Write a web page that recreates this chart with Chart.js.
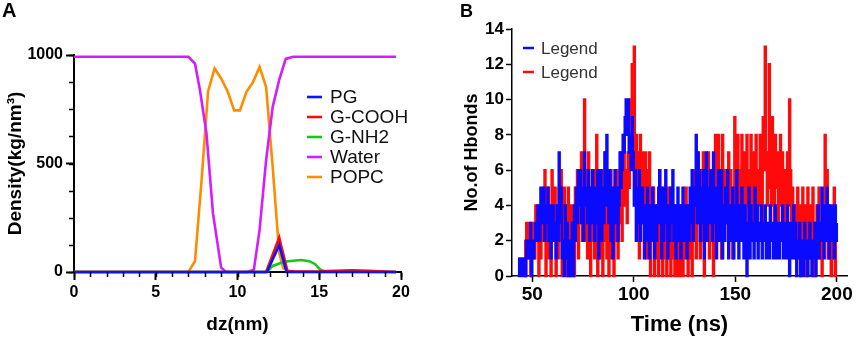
<!DOCTYPE html>
<html>
<head>
<meta charset="utf-8">
<script src="https://cdn.jsdelivr.net/npm/chart.js@4.4.0/dist/chart.umd.min.js"></script>
<style>
  html, body { margin: 0; padding: 0; background: #fff; }
  #wrap { position: relative; width: 858px; height: 340px; overflow: hidden; }
  .panel { position: absolute; top: 0; height: 340px; }
  #panelA { left: 0; width: 430px; }
  #panelB { left: 430px; width: 428px; }
</style>
</head>
<body>
<div id="wrap">
  <div class="panel" id="panelA"><canvas id="chartA"></canvas></div>
  <div class="panel" id="panelB"><canvas id="chartB"></canvas></div>
</div>
<script>
// --- Panel A: density profiles along dz (nm) ---
const pgX    = [0, 11.8, 12.55, 13.0, 19.7];
const pgY    = [0, 0, 124, 0, 0];
const coohX  = [0, 11.75, 12.55, 13.05, 13.5, 15, 16, 17, 18, 19, 19.7];
const coohY  = [0, 0, 158, 5, 2, 3, 6, 8, 5, 2, 0];
const nh2X   = [0, 11.8, 12.15, 12.6, 13.0, 13.4, 13.9, 14.4, 14.75, 15.05, 15.3, 16, 19.7];
const nh2Y   = [0, 0, 28, 40, 48, 52, 55, 50, 36, 12, 3, 2, 0];
const waterX = [0, 7.0, 7.4, 7.7, 8.1, 8.5, 9.0, 9.3, 10.6, 11.0, 11.35, 11.75, 12.15, 12.55, 12.95, 13.4, 19.7];
const waterY = [992, 992, 960, 840, 640, 270, 20, 0, 0, 10, 194, 515, 760, 885, 982, 992, 992];
const popcX  = [0, 7.0, 7.4, 7.8, 8.2, 8.6, 9.0, 9.4, 9.8, 10.15, 10.55, 10.95, 11.35, 11.75, 12.15, 12.55, 12.8, 13.2, 19.7];
const popcY  = [0, 0, 50, 420, 832, 938, 892, 832, 745, 745, 830, 875, 945, 852, 485, 87, 18, 0, 0];

// --- Panel B: number of H-bonds over time (sampled every 0.5 ns) ---
const hbStep = 0.5;
const blueStart = 43;
const blueHbonds = [
  1,0,1,1,0,1,0,0,2,1,  2,1,3,0,2,1,2,3,2,4,  3,2,5,3,4,5,2,4,3,5,  2,4,1,3,4,2,3,1,4,2,
  7,3,5,1,2,0,4,1,3,0,  2,0,1,3,0,4,2,5,3,6,  4,6,3,5,2,7,4,5,3,6,  2,5,3,6,4,2,5,3,6,1,
  4,6,2,5,3,7,4,8,5,3,  6,2,5,1,4,6,3,5,2,4,  7,5,6,8,7,9,10,8,10,7, 8,6,9,7,4,6,2,5,3,6,
  2,4,5,3,1,4,2,5,3,1,  4,2,5,3,1,4,2,3,5,6,  3,1,5,2,4,6,3,1,4,2,  5,3,6,2,4,1,3,5,2,4,
  1,3,5,2,4,3,1,4,2,5,  3,6,2,5,4,8,3,7,6,2,  5,3,6,1,4,7,2,5,3,6,  4,2,7,3,5,1,4,6,2,3,
  6,1,4,2,5,3,6,1,4,2,  3,5,1,4,2,6,3,1,4,2,  5,3,1,4,2,0,3,5,1,4,  2,3,1,5,2,4,1,3,2,4,
  1,3,2,4,1,3,2,1,4,2,  3,1,2,4,1,3,2,1,3,2,  4,1,2,3,1,4,2,0,3,1,  2,4,1,3,0,2,1,3,0,2,
  1,0,3,2,1,0,2,3,1,0,  2,1,3,0,2,4,1,3,2,5,  3,1,4,2,5,3,1,4,2,4,  3,1,4,2,3
];
const redStart = 46;
const redHbonds = [
  2,0,3,1,2,3,0,2,1,3,  1,4,2,3,0,4,1,3,2,5,  6,0,3,5,1,4,0,6,2,3,  5,0,4,1,5,2,6,0,3,5,
  1,4,0,5,2,0,4,1,3,0,  5,2,6,1,4,3,7,2,5,10, 2,6,1,7,3,0,5,2,6,1,  4,8,0,5,3,1,6,0,4,2,
  7,1,5,0,3,6,1,4,0,5,  2,6,1,5,3,7,2,5,8,4,  6,3,7,5,10,8,12,7,13,6, 8,2,7,1,8,3,7,5,2,7,
  1,6,3,7,0,4,2,5,0,3,  1,4,0,6,2,5,0,3,1,4,  0,2,5,1,0,3,1,4,0,2,  0,3,1,0,4,2,0,3,1,5,
  2,0,4,1,3,0,5,2,6,1,  7,3,5,1,6,2,7,0,4,6,  2,7,1,5,3,6,0,4,8,2,  5,8,3,6,1,8,4,2,6,5,
  3,7,2,6,4,1,5,9,3,6,  8,2,6,4,8,3,7,5,2,8,  4,6,3,8,5,2,7,4,8,3,  6,4,8,5,3,9,6,13,7,4,
  5,12,7,4,9,6,3,8,5,7, 3,6,8,4,7,2,6,5,3,7,  4,10,6,3,5,2,4,1,3,5, 2,4,0,3,5,1,4,2,0,5,
  3,1,4,2,5,0,3,1,4,2,  5,1,3,0,4,2,8,3,6,1,  4,2,0,3,1,5,0,2
];

const FONT = '"Liberation Sans", Arial, Helvetica, sans-serif';
Chart.defaults.color = '#000';
Chart.defaults.font.family = FONT;

function pairs(xs, ys) {
  return xs.map((x, i) => ({x: x, y: ys[i]}));
}
function timeSeries(start, step, values) {
  return values.map((v, i) => ({x: start + i * step, y: v}));
}

// legend drawn inside the plot area + panel letter
function insideLegend(o) {
  return {
    id: 'insideLegend',
    afterDraw(chart) {
      const ctx = chart.ctx;
      ctx.save();
      ctx.font = o.font;
      ctx.textBaseline = 'middle';
      chart.data.datasets.forEach((ds, i) => {
        const y = o.y + i * o.rowHeight;
        ctx.strokeStyle = ds.borderColor;
        ctx.lineWidth = o.lineWidth;
        ctx.beginPath();
        ctx.moveTo(o.x, y);
        ctx.lineTo(o.x + o.lineLength, y);
        ctx.stroke();
        ctx.fillStyle = o.color;
        ctx.fillText(ds.label, o.x + o.lineLength + o.gap, y + 1);
      });
      ctx.font = o.letterFont;
      ctx.fillStyle = '#000';
      ctx.textBaseline = 'alphabetic';
      ctx.fillText(o.letter, o.letterX, o.letterY);
      ctx.restore();
    }
  };
}

// small unlabeled ticks between the major ones
function minorTicks(o) {
  return {
    id: 'minorTicks',
    afterDraw(chart) {
      const {ctx, chartArea, scales} = chart;
      ctx.save();
      ctx.strokeStyle = '#000';
      ctx.lineWidth = o.tickWidth;
      ctx.beginPath();
      for (let v = scales.x.min; v <= scales.x.max + 1e-9; v += o.xStep) {
        const px = Math.round(scales.x.getPixelForValue(v)) + 0.5;
        ctx.moveTo(px, chartArea.bottom);
        ctx.lineTo(px, chartArea.bottom + o.tickLen);
      }
      for (let v = scales.y.min; v <= scales.y.max + 1e-9; v += o.yStep) {
        const py = Math.round(scales.y.getPixelForValue(v)) + 0.5;
        ctx.moveTo(chartArea.left, py);
        ctx.lineTo(chartArea.left - o.tickLen, py);
      }
      ctx.stroke();
      ctx.restore();
    }
  };
}

function axis(opts) {
  return {
    type: 'linear',
    min: opts.min,
    max: opts.max,
    ticks: {stepSize: opts.step, includeBounds: false, padding: opts.pad,
            font: {size: opts.tickSize, weight: 'bold'}, color: '#000', maxRotation: 0,
            callback: v => String(v)},
    grid: {display: true, drawOnChartArea: false, drawTicks: true,
           tickLength: opts.tickLength, tickWidth: opts.lineWidth, tickColor: '#000'},
    border: {display: true, color: '#000', width: opts.lineWidth},
    title: {display: true, text: opts.title, color: '#000',
            font: {size: opts.titleSize, weight: 'bold'}, padding: {top: 0, bottom: 0}},
    afterFit: opts.fit
  };
}

new Chart(document.getElementById('chartA'), {
  type: 'line',
  data: {
    datasets: [
      {label: 'PG', data: pairs(pgX, pgY), borderColor: '#0a14ff'},
      {label: 'G-COOH', data: pairs(coohX, coohY), borderColor: '#ff0a0a'},
      {label: 'G-NH2', data: pairs(nh2X, nh2Y), borderColor: '#14c814'},
      {label: 'Water', data: pairs(waterX, waterY), borderColor: '#d21eff'},
      {label: 'POPC', data: pairs(popcX, popcY), borderColor: '#ff8c00'}
    ]
  },
  options: {
    animation: false,
    responsive: true,
    maintainAspectRatio: false,
    layout: {padding: {left: 4, top: 55, right: 29, bottom: 4}},
    elements: {point: {radius: 0}, line: {tension: 0, borderWidth: 2.6}},
    datasets: {line: {clip: false}},
    scales: {
      x: axis({min: 0, max: 20, step: 5, pad: 3, tickSize: 16, tickLength: 8, lineWidth: 2,
               title: 'dz(nm)', titleSize: 19, fit: s => { s.height = 64; }}),
      y: axis({min: 0, max: 1000, step: 500, pad: 3, tickSize: 16, tickLength: 8, lineWidth: 2,
               title: 'Density(kg/nm³)', titleSize: 19, fit: s => { s.width = 70; }})
    },
    plugins: {legend: {display: false}, tooltip: {enabled: false}}
  },
  plugins: [
    minorTicks({xStep: 1, yStep: 125, tickLen: 5, tickWidth: 1.5}),
    insideLegend({x: 307, y: 97, rowHeight: 20, lineLength: 15, gap: 8, lineWidth: 2.6,
                  font: '19px ' + FONT, color: '#111',
                  letter: 'A', letterFont: 'bold 20px ' + FONT, letterX: 2, letterY: 17})
  ]
});

new Chart(document.getElementById('chartB'), {
  type: 'line',
  data: {
    datasets: [
      {label: 'Legend', data: timeSeries(blueStart, hbStep, blueHbonds), borderColor: '#0a0aff', stepped: true},
      {label: 'Legend', data: timeSeries(redStart, hbStep, redHbonds), borderColor: '#ff0a0a', stepped: true}
    ]
  },
  options: {
    animation: false,
    responsive: true,
    maintainAspectRatio: false,
    layout: {padding: {left: 31, top: 29, right: 11, bottom: 2}},
    elements: {point: {radius: 0}, line: {tension: 0, borderWidth: 2.4}},
    datasets: {line: {clip: false}},
    scales: {
      x: axis({min: 40, max: 205, step: 50, pad: 1, tickSize: 19, tickLength: 6, lineWidth: 1.5,
               title: 'Time (ns)', titleSize: 22, fit: s => { s.height = 62; }}),
      y: axis({min: 0, max: 14, step: 2, pad: 2, tickSize: 17, tickLength: 6, lineWidth: 1.5,
               title: 'No.of Hbonds', titleSize: 18, fit: s => { s.width = 51; }})
    },
    plugins: {legend: {display: false}, tooltip: {enabled: false}}
  },
  plugins: [
    insideLegend({x: 93, y: 48, rowHeight: 24, lineLength: 11, gap: 7, lineWidth: 2.5,
                  font: '17px ' + FONT, color: '#333',
                  letter: 'B', letterFont: 'bold 18px ' + FONT, letterX: 30, letterY: 17})
  ]
});
</script>
</body>
</html>
